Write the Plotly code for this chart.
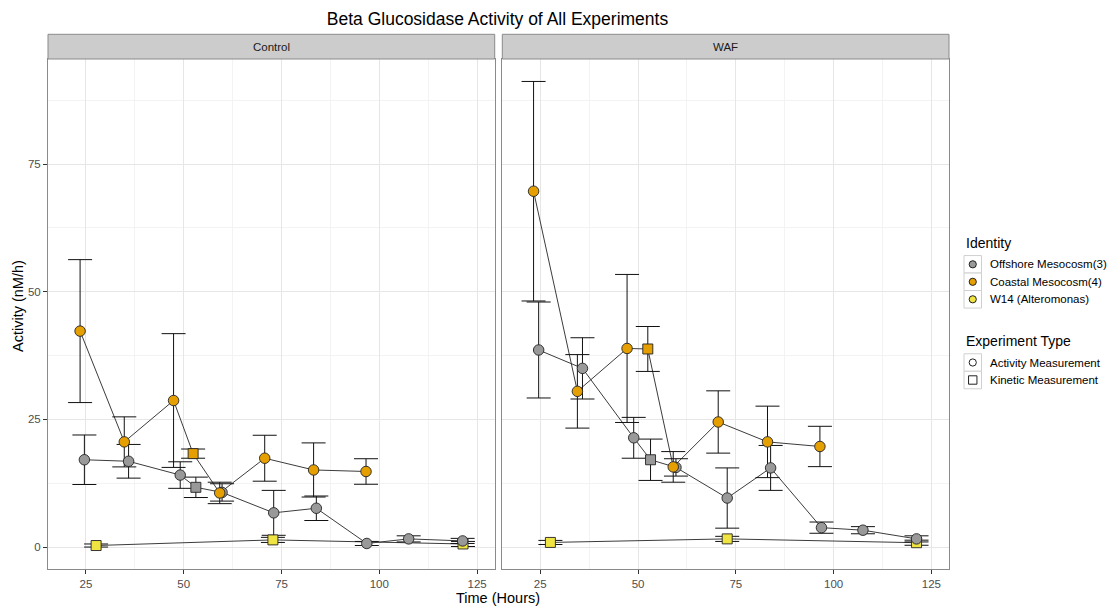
import plotly.graph_objects as go

# ---- Beta glucosidase activity (nM/h) by time (hours) ----
# Control treatment
ctrl_off_act_t = [24.6, 35.9, 49.1, 59.8, 73.0, 83.9, 96.8, 107.5, 121.3]
ctrl_off_act_y = [17.1, 16.8, 14.1, 10.7, 6.7, 7.6, 0.7, 1.6, 1.2]
ctrl_off_act_e = [4.85, 3.3, 2.6, 1.7, 4.4, 2.4, 0.4, 0.6, 0.5]
ctrl_off_kin_t = [53.1]
ctrl_off_kin_y = [11.7]
ctrl_off_kin_e = [2.0]

ctrl_coa_act_t = [23.5, 34.8, 47.4, 59.2, 70.7, 83.2, 96.6]
ctrl_coa_act_y = [42.3, 20.6, 28.7, 10.6, 17.4, 15.1, 14.8]
ctrl_coa_act_e = [14.0, 4.9, 13.1, 2.1, 4.5, 5.3, 2.5]
ctrl_coa_kin_t = [52.4]
ctrl_coa_kin_y = [18.3]
ctrl_coa_kin_e = [0.9]

ctrl_w14_kin_t = [27.6, 72.8, 121.4]
ctrl_w14_kin_y = [0.3, 1.4, 0.6]
ctrl_w14_kin_e = [0.3, 0.5, 0.5]

# WAF treatment
waf_off_act_t = [24.6, 35.8, 48.9, 59.7, 72.8, 83.9, 96.9, 107.5, 121.2]
waf_off_act_y = [38.6, 35.0, 21.4, 15.6, 9.6, 15.5, 3.8, 3.3, 1.6]
waf_off_act_e = [9.4, 6.0, 4.0, 1.7, 5.9, 4.4, 1.1, 0.7, 0.6]
waf_off_kin_t = [53.2]
waf_off_kin_y = [17.1]
waf_off_kin_e = [4.05]

waf_coa_act_t = [23.3, 34.5, 47.2, 59.0, 70.5, 83.1, 96.5]
waf_coa_act_y = [69.7, 30.5, 38.9, 15.7, 24.5, 20.6, 19.7]
waf_coa_act_e = [21.5, 7.2, 14.5, 3.0, 6.1, 7.0, 3.95]
waf_coa_kin_t = [52.5]
waf_coa_kin_y = [38.8]
waf_coa_kin_e = [4.4]

waf_w14_kin_t = [27.6, 72.8, 121.2]
waf_w14_kin_y = [0.9, 1.6, 0.85]
waf_w14_kin_e = [0.4, 0.5, 0.5]

panel_names = ["Control", "WAF"]
identity_names = ["Offshore Mesocosm(3)", "Coastal Mesocosm(4)", "W14 (Alteromonas)"]
identity_colors = ["#999999", "#E69F00", "#F0E442"]
type_names = ["Activity Measurement", "Kinetic Measurement"]
x_ticks = [25, 50, 75, 100, 125]
y_ticks = [0, 25, 50, 75]

FONT = "Liberation Sans, Arial, sans-serif"

panels = [
    {  # Control
        "xa": "x", "ya": "y",
        "groups": [
            ((ctrl_off_act_t, ctrl_off_act_y, ctrl_off_act_e), (ctrl_off_kin_t, ctrl_off_kin_y, ctrl_off_kin_e)),
            ((ctrl_coa_act_t, ctrl_coa_act_y, ctrl_coa_act_e), (ctrl_coa_kin_t, ctrl_coa_kin_y, ctrl_coa_kin_e)),
            (([], [], []), (ctrl_w14_kin_t, ctrl_w14_kin_y, ctrl_w14_kin_e)),
        ],
    },
    {  # WAF
        "xa": "x2", "ya": "y2",
        "groups": [
            ((waf_off_act_t, waf_off_act_y, waf_off_act_e), (waf_off_kin_t, waf_off_kin_y, waf_off_kin_e)),
            ((waf_coa_act_t, waf_coa_act_y, waf_coa_act_e), (waf_coa_kin_t, waf_coa_kin_y, waf_coa_kin_e)),
            (([], [], []), (waf_w14_kin_t, waf_w14_kin_y, waf_w14_kin_e)),
        ],
    },
]

fig = go.Figure()

for p in panels:
    xa, ya = p["xa"], p["ya"]
    # connecting lines: one per identity, through both measurement types in time order
    for act, kin in p["groups"]:
        pts = sorted(zip(list(act[0]) + list(kin[0]), list(act[1]) + list(kin[1])))
        fig.add_trace(go.Scatter(
            x=[a for a, _ in pts], y=[b for _, b in pts], mode="lines",
            line=dict(color="#3c3c3c", width=1), xaxis=xa, yaxis=ya,
            showlegend=False, hoverinfo="skip"))
    # error bars
    for act, kin in p["groups"]:
        for t, y, e in (act, kin):
            if not t:
                continue
            fig.add_trace(go.Scatter(
                x=t, y=y, mode="markers",
                marker=dict(size=1, color="rgba(0,0,0,0)"),
                error_y=dict(type="data", array=e, color="#111111", thickness=1, width=12),
                xaxis=xa, yaxis=ya, showlegend=False, hoverinfo="skip"))
    # kinetic measurements (squares), then activity measurements (circles)
    for (act, kin), col in zip(p["groups"], identity_colors):
        fig.add_trace(go.Scatter(
            x=kin[0], y=kin[1], mode="markers",
            marker=dict(symbol="square", size=10, color=col, line=dict(color="#222222", width=0.9)),
            xaxis=xa, yaxis=ya, showlegend=False))
    for (act, kin), col in zip(p["groups"], identity_colors):
        if not act[0]:
            continue
        fig.add_trace(go.Scatter(
            x=act[0], y=act[1], mode="markers",
            marker=dict(symbol="circle", size=10.5, color=col, line=dict(color="#222222", width=0.9)),
            xaxis=xa, yaxis=ya, showlegend=False))

W, H = 1110, 606
ML, MR, MT, MB = 48, 161, 59, 37
PW, PH = W - ML - MR, H - MT - MB
dom_left = [0, 0.4958]
dom_right = [0.5042, 1]

axis_common = dict(
    showline=True, mirror=True, linecolor="#8a8a8a", linewidth=1,
    showgrid=True, gridcolor="#e6e6e6", gridwidth=1, zeroline=False,
    ticks="outside", ticklen=4, tickcolor="#333333", tickwidth=1,
    tickfont=dict(family=FONT, size=11.5, color="#4d4d4d"),
)
xr = [15.3, 129.5]
yr = [-4.3, 95.6]
xminor = dict(tickvals=[37.5, 62.5, 87.5, 112.5], showgrid=True, gridcolor="#f3f3f3", ticks="")
yminor = dict(tickvals=[12.5, 37.5, 62.5, 87.5], showgrid=True, gridcolor="#f3f3f3", ticks="")

fig.update_layout(
    width=W, height=H,
    margin=dict(l=ML, r=MR, t=MT, b=MB),
    paper_bgcolor="white", plot_bgcolor="white",
    showlegend=False,
    font=dict(family=FONT, color="#000000"),
    title=dict(text="Beta Glucosidase Activity of All Experiments",
               x=(497.5 - ML) / PW, xref="paper", xanchor="center",
               y=1 - 19 / H, yref="container", yanchor="middle",
               font=dict(family=FONT, size=17.5, color="#000000")),
    xaxis=dict(domain=dom_left, range=xr, tickvals=x_ticks, minor=xminor, anchor="y", **axis_common),
    xaxis2=dict(domain=dom_right, range=xr, tickvals=x_ticks, minor=xminor, anchor="y2", **axis_common),
    yaxis=dict(domain=[0, 1], range=yr, tickvals=y_ticks, minor=yminor, anchor="x", **axis_common),
    yaxis2=dict(domain=[0, 1], range=yr, tickvals=y_ticks, minor=yminor, anchor="x2", matches="y",
                **{**axis_common, "ticks": "", "showticklabels": False}),
)

shapes = []
annotations = []

def px_x(px):
    return (px - ML) / PW

def px_y(py):
    return (H - MB - py) / PH

# facet strips
strip_top = 1 + (MT - 34.3) / PH
for dom, name in zip([dom_left, dom_right], panel_names):
    shapes.append(dict(type="rect", xref="paper", yref="paper", x0=dom[0], x1=dom[1], y0=1, y1=strip_top,
                       fillcolor="#cccccc", line=dict(color="#8a8a8a", width=1), layer="above"))
    annotations.append(dict(text=name, xref="paper", yref="paper", x=(dom[0] + dom[1]) / 2,
                            y=(1 + strip_top) / 2, showarrow=False, xanchor="center", yanchor="middle",
                            font=dict(family=FONT, size=11.5, color="#1a1a1a")))

# axis titles
annotations.append(dict(text="Time (Hours)", xref="paper", yref="paper", x=px_x(498), y=px_y(598),
                        showarrow=False, xanchor="center", yanchor="middle",
                        font=dict(family=FONT, size=14.5, color="#000000")))
annotations.append(dict(text="Activity (nM/h)", xref="paper", yref="paper", x=px_x(18), y=px_y(306),
                        showarrow=False, xanchor="center", yanchor="middle", textangle=-90,
                        font=dict(family=FONT, size=14.5, color="#000000")))

# legend
key_x0, key_x1 = 964, 981.5
key_cx = (key_x0 + key_x1) / 2
row_h = 17.5
text_x = 988

def legend_title(text, py):
    annotations.append(dict(text=text, xref="paper", yref="paper", x=px_x(key_x0), y=px_y(py),
                            showarrow=False, xanchor="left", yanchor="middle",
                            font=dict(family=FONT, size=14, color="#000000")))

def legend_row(text, cy, symbol, fill):
    shapes.append(dict(type="rect", xref="paper", yref="paper", x0=px_x(key_x0), x1=px_x(key_x1),
                       y0=px_y(cy + row_h / 2), y1=px_y(cy - row_h / 2),
                       fillcolor="white", line=dict(color="#d0d0d0", width=1)))
    r = 3.6 if symbol == "circle" else 4.2
    shapes.append(dict(type=symbol, xref="paper", yref="paper", xsizemode="pixel", ysizemode="pixel",
                       xanchor=px_x(key_cx), yanchor=px_y(cy), x0=-r, x1=r, y0=-r, y1=r,
                       fillcolor=fill, line=dict(color="#222222", width=1)))
    annotations.append(dict(text=text, xref="paper", yref="paper", x=px_x(text_x), y=px_y(cy),
                            showarrow=False, xanchor="left", yanchor="middle",
                            font=dict(family=FONT, size=11.5, color="#000000")))

legend_title("Identity", 243)
for i, (name, col) in enumerate(zip(identity_names, identity_colors)):
    legend_row(name, 264.3 + i * row_h, "circle", col)

legend_title("Experiment Type", 341)
legend_row(type_names[0], 362.5, "circle", "white")
legend_row(type_names[1], 362.5 + row_h, "rect", "white")

fig.update_layout(shapes=shapes, annotations=annotations)

fig.write_html("out.html")
